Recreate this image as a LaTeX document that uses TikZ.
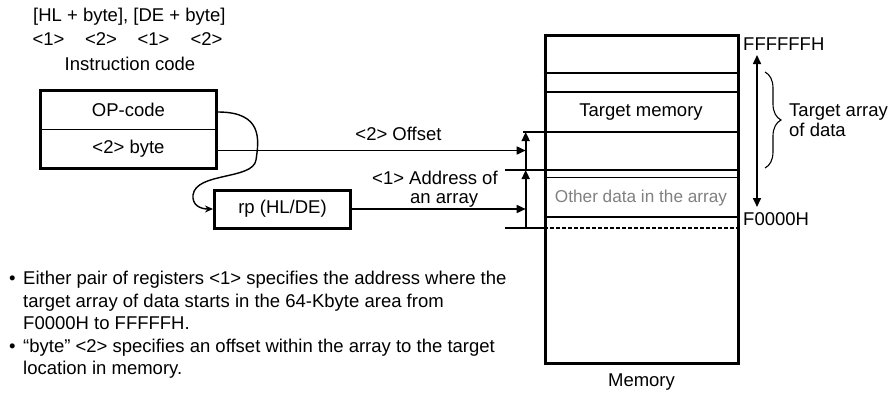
\documentclass[tikz,border=0pt]{standalone}
\usepackage{fontspec}
\setmainfont{Liberation Sans}
\usetikzlibrary{arrows.meta,decorations.pathreplacing}
\begin{document}
\begin{tikzpicture}[x=1pt,y=-1pt,
  font=\fontsize{18.5}{22.3}\selectfont,
  txt/.style={inner sep=0pt, anchor=center},
  cell/.style={draw, line width=1.5pt, minimum width=175pt, minimum height=38.5pt, inner sep=0pt},
  thickbox/.style={line width=3pt},
  arr/.style={line width=1.6pt, -{Triangle[length=9pt,width=8pt]}},
  darr/.style={line width=1.6pt, {Triangle[length=9pt,width=8pt]}-{Triangle[length=9pt,width=8pt]}},
  thinln/.style={line width=1.5pt},
  curvearr/.style={line width=1.4pt, -{Stealth[length=8pt,width=7pt,open]}},
  bul/.style={anchor=west, inner sep=0pt, text height=13pt, text depth=4pt}
]
\useasboundingbox (0,0) rectangle (891,394);

% top texts
\node[txt, anchor=west] (hdr) at (33,17) {[HL + byte], [DE + byte]};
\node[txt] (n1a) at (48.5,39) {<1>};
\node[txt] (n2a) at (101,39) {<2>};
\node[txt] (n1b) at (153.5,39) {<1>};
\node[txt] (n2b) at (206.5,39) {<2>};
\node[txt] (inscode) at (130,64) {Instruction code};

% instruction box
\node[cell] (op) at (128.5,110) {OP-code};
\node[cell] (byte) at (128.5,148.5) {<2> byte};
\draw[thickbox] (op.north west) rectangle (byte.south east);

% rp box
\node[draw, thickbox, minimum width=136pt, minimum height=38pt, inner sep=0pt] (rp) at (282.5,209) {rp (HL/DE)};

% curved arrow
\coordinate (cs) at (218,112);
\draw[curvearr] (cs) .. controls (263,112) and (259,140) .. (256,160)
  .. controls (253,180) and (196,172) .. (193,195)
  .. controls (192,205) and (200,209) .. (rp.west);

% memory
\node[draw, thickbox, minimum width=193pt, minimum height=328.5pt, inner sep=0pt] (mem) at (641.5,199.25) {};
\node[txt] (memlbl) at (641.5,382) {Memory};
\draw[thinln] (mem.west |- 0,73) -- (mem.east |- 0,73);
\draw[thinln] (mem.west |- 0,92) -- (mem.east |- 0,92);
\draw[thinln] (523,132) -- (mem.east |- 0,132);
\draw[thinln] (505,170) -- (mem.east |- 0,170);
\draw[thinln] (mem.west |- 0,177.5) -- (mem.east |- 0,177.5);
\draw[thinln] (mem.west |- 0,217) -- (mem.east |- 0,217);
\draw[thinln] (505,228) -- (mem.west |- 0,228);
\draw[thinln, dashed, dash pattern=on 4pt off 2pt] (mem.west |- 0,228) -- (mem.east |- 0,228);
\node[txt] (tmem) at (641,112) {Target memory};
\node[txt, text=black!50, font=\fontsize{17.2}{20}\selectfont] (other) at (641,198) {Other data in the array};

% vertical arrows
\coordinate (t2) at (525.7,132);
\coordinate (t1) at (525.7,170);
\coordinate (t0) at (525.7,228);
\draw[arr] (t0) -- (t1);
\draw[arr] (t1) -- (t2);
\draw[arr] ([yshift=-2pt]byte.east) -- ([yshift=-2pt]byte.east -| t2);
\draw[arr] (rp.east) -- (rp.east -| t2);
\node[txt] (offs) at (398.5,134) {<2> Offset};
\node[txt, anchor=west] (addr) at (372,178) {<1> Address of};
\node[txt, anchor=west] (anarr) at (410,200) {an array};

% right side
\node[txt, anchor=west] (fff) at (743,44) {FFFFFFH};
\node[txt, anchor=west] (f00) at (743,219) {F0000H};
\coordinate (dtop) at (757,55);
\coordinate (dbot) at (757,207);
\draw[darr] (dbot) -- (dtop);
\draw[line width=1.1pt, decorate, decoration={brace, amplitude=16pt}] (765,72) -- (765,168);
\node[txt, anchor=west] (tarr) at (789,112) {Target array};
\node[txt, anchor=west] (ofdata) at (789,130) {of data};

% bullets
\node[bul] (b1) at (9,280) {\textbullet};
\node[bul] (l1) at (23,280) {Either pair of registers <1> specifies the address where the};
\node[bul] (l2) at (23,302.5) {target array of data starts in the 64-Kbyte area from};
\node[bul] (l3) at (23,325) {F0000H to FFFFFH.};
\node[bul] (b2) at (9,347.5) {\textbullet};
\node[bul] (l4) at (23,347.5) {“byte” <2> specifies an offset within the array to the target};
\node[bul] (l5) at (23,370) {location in memory.};
\end{tikzpicture}
\end{document}
